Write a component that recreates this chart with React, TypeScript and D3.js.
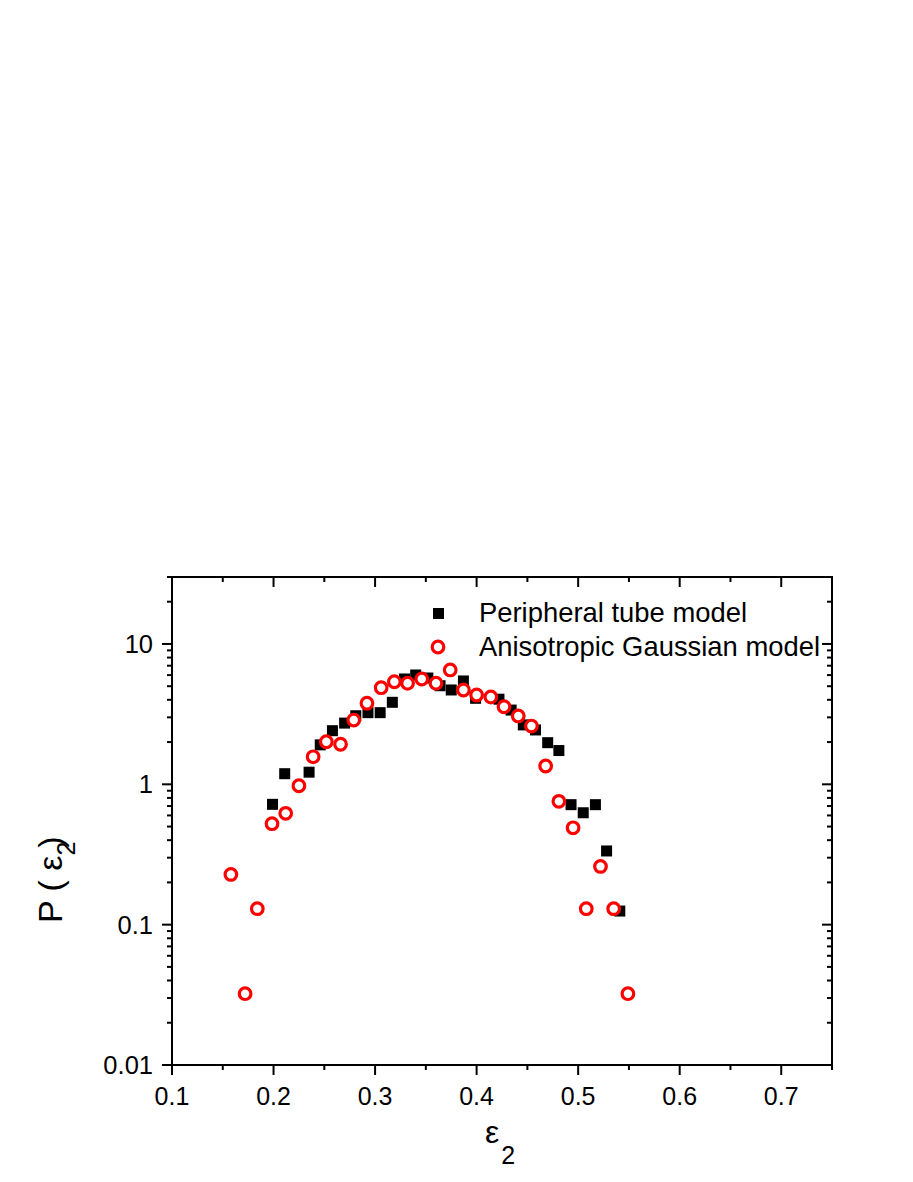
import React from 'react';
import * as d3 from 'd3';

// Peripheral tube model (black squares)
const tubeX = [0.199, 0.211, 0.235, 0.246, 0.258, 0.270, 0.281, 0.293, 0.305, 0.317, 0.329, 0.340, 0.352, 0.364, 0.375, 0.387, 0.399, 0.422, 0.434, 0.446, 0.458, 0.470, 0.481, 0.493, 0.505, 0.517, 0.528, 0.541];
const tubeY = [0.72, 1.19, 1.22, 1.91, 2.41, 2.73, 3.08, 3.24, 3.24, 3.84, 5.63, 6.01, 5.72, 5.04, 4.70, 5.45, 4.10, 4.04, 3.38, 2.65, 2.44, 1.98, 1.74, 0.716, 0.627, 0.716, 0.335, 0.125];

// Anisotropic Gaussian model (red open circles)
const gaussX = [0.158, 0.172, 0.184, 0.1985, 0.212, 0.225, 0.239, 0.252, 0.266, 0.279, 0.292, 0.306, 0.319, 0.332, 0.346, 0.360, 0.374, 0.387, 0.400, 0.414, 0.427, 0.441, 0.454, 0.468, 0.481, 0.495, 0.508, 0.522, 0.535, 0.549];
const gaussY = [0.228, 0.0322, 0.13, 0.524, 0.621, 0.977, 1.57, 2.01, 1.93, 2.87, 3.78, 4.88, 5.38, 5.25, 5.63, 5.25, 6.53, 4.70, 4.33, 4.19, 3.57, 3.07, 2.60, 1.35, 0.756, 0.49, 0.13, 0.26, 0.13, 0.0322];

const xTicks = [0.1, 0.2, 0.3, 0.4, 0.5, 0.6, 0.7];
const xTickLabels = ['0.1', '0.2', '0.3', '0.4', '0.5', '0.6', '0.7'];
const yTicks = [0.01, 0.1, 1, 10];
const yTickLabels = ['0.01', '0.1', '1', '10'];
const legendLabels = ['Peripheral tube model', 'Anisotropic Gaussian model'];

const width = 913;
const height = 1182;
const left = 172;
const right = 832;
const top = 577;
const bottom = 1065;

const font = '"Liberation Sans", Arial, sans-serif';

const x = d3.scaleLinear().domain([0.1, 0.75]).range([left, right]);
const y = d3.scaleLog().domain([0.01, 30]).range([bottom, top]);

const xMinor = d3.range(0.15, 0.76, 0.1);
const yAll = y.ticks().filter(v => v <= 30);

const App = () => {
    const axisColor = '#000';
    const majorLen = 10;
    const minorLen = 5;

    return (
        <svg width={width} height={height} style={{ position: 'absolute', left: 0, top: 0 }}
            fontFamily={font}>
            <rect width={width} height={height} fill="#fff" />

            {/* frame */}
            <rect x={left} y={top} width={right - left} height={bottom - top}
                fill="none" stroke={axisColor} strokeWidth={2} />

            {/* x ticks, bottom and top, all pointing down */}
            {xTicks.map((v, i) => (
                <g key={'xt' + i}>
                    <line x1={x(v)} x2={x(v)} y1={bottom} y2={bottom + majorLen} stroke={axisColor} strokeWidth={2} />
                    <line x1={x(v)} x2={x(v)} y1={top} y2={top + majorLen} stroke={axisColor} strokeWidth={2} />
                    <text x={x(v)} y={bottom + 40} textAnchor="middle" fontSize={25}>{xTickLabels[i]}</text>
                </g>
            ))}
            {xMinor.map((v, i) => (
                <g key={'xm' + i}>
                    <line x1={x(v)} x2={x(v)} y1={bottom} y2={bottom + minorLen} stroke={axisColor} strokeWidth={2} />
                    <line x1={x(v)} x2={x(v)} y1={top} y2={top + minorLen} stroke={axisColor} strokeWidth={2} />
                </g>
            ))}

            {/* y ticks, left and right, all pointing left */}
            {yAll.map((v, i) => {
                const major = yTicks.some(t => Math.abs(t - v) < 1e-9);
                const len = major ? majorLen : minorLen;
                return (
                    <g key={'yt' + i}>
                        <line x1={left - len} x2={left} y1={y(v)} y2={y(v)} stroke={axisColor} strokeWidth={2} />
                        <line x1={right - len} x2={right} y1={y(v)} y2={y(v)} stroke={axisColor} strokeWidth={2} />
                    </g>
                );
            })}
            {yTicks.map((v, i) => (
                <text key={'yl' + i} x={left - 19} y={y(v) + 9} textAnchor="end" fontSize={25.5}>{yTickLabels[i]}</text>
            ))}

            {/* axis titles */}
            <text x={485} y={1143} fontSize={32}>
                ε<tspan fontSize={25} dy={21} dx={2}>2</tspan>
            </text>
            <text transform="translate(62, 923) rotate(-90)" fontSize={34}>
                P ( ε<tspan fontSize={25} dy={13}>2</tspan><tspan dy={-13} dx={-6}>)</tspan>
            </text>

            {/* series */}
            {tubeX.map((v, i) => (
                <rect key={'s' + i} x={x(v) - 5.5} y={y(tubeY[i]) - 5.5} width={11} height={11} fill="#000" />
            ))}
            {gaussX.map((v, i) => (
                <circle key={'c' + i} cx={x(v)} cy={y(gaussY[i])} r={5.8} fill="#fff" stroke="#ff0000" strokeWidth={3.2} />
            ))}

            {/* legend */}
            <rect x={433} y={608} width={11} height={11} fill="#000" />
            <circle cx={438} cy={647} r={5.8} fill="#fff" stroke="#ff0000" strokeWidth={3.2} />
            <text x={479} y={622} fontSize={27.4}>{legendLabels[0]}</text>
            <text x={479} y={656} fontSize={27.4}>{legendLabels[1]}</text>
        </svg>
    );
};

export default App;
